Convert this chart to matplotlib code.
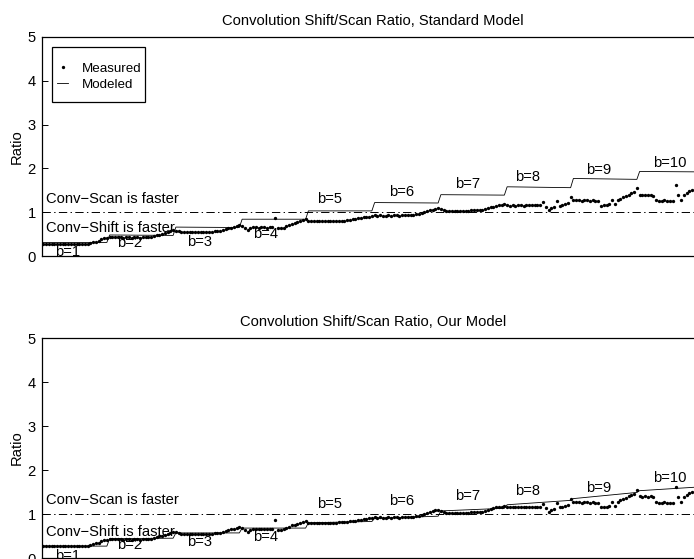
import numpy as np
import matplotlib
matplotlib.use("Agg")
import matplotlib.pyplot as plt
from matplotlib.patches import Rectangle

plt.rcParams['font.family'] = ['Liberation Sans', 'DejaVu Sans']
plt.rcParams['lines.scale_dashes'] = False

# block sizes b = 1..10, measured shift/scan ratio for each image size in a block
b_values = [1, 2, 3, 4, 5, 6, 7, 8, 9, 10]
points_per_block = 24

meas_b1 = [0.28, 0.27, 0.28, 0.27, 0.28, 0.28, 0.27, 0.28, 0.27, 0.28, 0.28, 0.27,
           0.28, 0.27, 0.28, 0.28, 0.28, 0.29, 0.31, 0.33, 0.35, 0.38, 0.40, 0.42]
meas_b2 = [0.44, 0.43, 0.44, 0.43, 0.43, 0.42, 0.43, 0.43, 0.42, 0.43, 0.43, 0.42,
           0.43, 0.43, 0.43, 0.44, 0.45, 0.47, 0.49, 0.51, 0.53, 0.55, 0.57, 0.59]
meas_b3 = [0.58, 0.56, 0.55, 0.55, 0.54, 0.55, 0.55, 0.54, 0.55, 0.55, 0.54, 0.55,
           0.55, 0.55, 0.56, 0.56, 0.57, 0.59, 0.61, 0.63, 0.65, 0.67, 0.69, 0.71]
meas_b4 = [0.68, 0.64, 0.60, 0.64, 0.66, 0.66, 0.65, 0.66, 0.66, 0.65, 0.66, 0.66,
           0.87, 0.64, 0.63, 0.65, 0.68, 0.71, 0.74, 0.76, 0.78, 0.80, 0.82, 0.84]
meas_b5 = [0.80, 0.79, 0.79, 0.80, 0.79, 0.79, 0.80, 0.79, 0.80, 0.80, 0.80, 0.81,
           0.81, 0.81, 0.82, 0.83, 0.84, 0.85, 0.86, 0.87, 0.88, 0.89, 0.90, 0.91]
meas_b6 = [0.93, 0.92, 0.93, 0.92, 0.92, 0.93, 0.92, 0.93, 0.93, 0.92, 0.93, 0.93,
           0.94, 0.94, 0.94, 0.95, 0.96, 0.98, 1.00, 1.02, 1.04, 1.06, 1.08, 1.09]
meas_b7 = [1.07, 1.04, 1.03, 1.03, 1.02, 1.03, 1.03, 1.02, 1.03, 1.03, 1.03, 1.04,
           1.04, 1.04, 1.04, 1.05, 1.07, 1.09, 1.11, 1.13, 1.15, 1.16, 1.17, 1.18]
meas_b8 = [1.17, 1.15, 1.16, 1.15, 1.16, 1.16, 1.15, 1.16, 1.16, 1.17, 1.16, 1.16,
           1.17, 1.23, 1.13, 1.05, 1.10, 1.12, 1.25, 1.15, 1.17, 1.18, 1.21, 1.34]
meas_b9 = [1.28, 1.27, 1.27, 1.26, 1.27, 1.27, 1.26, 1.27, 1.26, 1.26, 1.15, 1.16,
           1.17, 1.19, 1.28, 1.19, 1.27, 1.31, 1.34, 1.37, 1.40, 1.43, 1.46, 1.55]
meas_b10 = [1.40, 1.39, 1.40, 1.39, 1.40, 1.38, 1.27, 1.25, 1.26, 1.27, 1.26, 1.25,
            1.26, 1.61, 1.39, 1.28, 1.39, 1.44, 1.48, 1.51, 1.53, 1.55]
measured_blocks = [meas_b1, meas_b2, meas_b3, meas_b4, meas_b5,
                   meas_b6, meas_b7, meas_b8, meas_b9, meas_b10]

# modeled ratio at the first and last size of each block
model_std_start = [0.31, 0.48, 0.66, 0.84, 1.03, 1.22, 1.40, 1.58, 1.77, 1.93]
model_std_end = [0.31, 0.47, 0.65, 0.84, 1.03, 1.21, 1.39, 1.56, 1.75, 1.92]
model_our_start = [0.27, 0.44, 0.57, 0.68, 0.80, 0.90, 1.07, 1.21, 1.35, 1.53]
model_our_end = [0.27, 0.45, 0.57, 0.68, 0.83, 0.95, 1.13, 1.31, 1.49, 1.62]

# block annotations (left edge in block units, vertical position in ratio units)
label_x = [0.20, 1.13, 2.19, 3.18, 4.15, 5.24, 6.23, 7.14, 8.21, 9.22]
label_y_std = [0.10, 0.29, 0.33, 0.50, 1.29, 1.47, 1.64, 1.81, 1.96, 2.13]
label_y_our = [0.05, 0.30, 0.36, 0.48, 1.23, 1.30, 1.41, 1.52, 1.60, 1.81]

titles = ["Convolution Shift/Scan Ratio, Standard Model",
          "Convolution Shift/Scan Ratio, Our Model"]
yticks = [0, 1, 2, 3, 4, 5]

FS = 10.6
LEG_FS = 9.6
W, H = 694, 559


def block_x(b, n):
    return (b - 1) + (np.arange(n) + 0.5) / points_per_block


meas_x = np.concatenate([block_x(b, len(v)) for b, v in zip(b_values, measured_blocks)])
meas_y = np.concatenate(measured_blocks)


def model_line(starts, ends):
    xs, ys = [], []
    for b, s, e in zip(b_values, starts, ends):
        xs += [(b - 1) + 0.5 / points_per_block, (b - 1) + (points_per_block - 0.5) / points_per_block]
        ys += [s, e]
    return np.array(xs), np.array(ys)


fig = plt.figure(figsize=(W / 100, H / 100), dpi=100)
ax1 = fig.add_axes([42 / W, 1 - 256 / H, 662.5 / W, 219 / H])
ax2 = fig.add_axes([42 / W, 1 - 558 / H, 662.5 / W, 220 / H])

panels = [(ax1, model_std_start, model_std_end, label_y_std, titles[0], 1.30, 0.63),
          (ax2, model_our_start, model_our_end, label_y_our, titles[1], 1.32, 0.60)]

for ax, ms, me, ly, title, scan_y, shift_y in panels:
    mx, my = model_line(ms, me)
    ax.plot(meas_x, meas_y, linestyle='none', marker='o', markersize=2.4,
            markeredgewidth=0, color='black', label='Measured', zorder=3)
    ax.plot(mx, my, color='black', linewidth=0.6, label='Modeled', zorder=2)
    ax.axhline(1.0, color='black', linewidth=0.7,
               linestyle=(0, (6.0, 2.4, 1.0, 2.4)), zorder=1)

    ax.text(0.06, scan_y, "Conv\u2212Scan is faster", fontsize=FS, ha='left', va='center')
    ax.text(0.06, shift_y, "Conv\u2212Shift is faster", fontsize=FS, ha='left', va='center')
    for b, x, y in zip(b_values, label_x, ly):
        ax.text(x, y, f"b={b}", fontsize=FS, ha='left', va='center')

    ax.set_xlim(0, 10)
    ax.set_ylim(0, 5)
    ax.set_xticks([])
    ax.set_yticks(yticks)
    ax.tick_params(axis='y', direction='in', length=4, width=0.7, labelsize=FS, pad=4.5)
    for s in ax.spines.values():
        s.set_linewidth(0.9)
    ax.set_ylabel("Ratio", fontsize=FS)
    ax.yaxis.set_label_coords(-0.027, 0.5)
    ax.set_title(title, fontsize=FS, pad=8.3)

# legend entries without their own frame, boxed separately
leg = ax1.legend(loc='upper left', fontsize=LEG_FS, frameon=False,
                 bbox_to_anchor=(57 / W, 1 - 62.5 / H), bbox_transform=fig.transFigure,
                 borderaxespad=0, borderpad=0, handlelength=0.85,
                 handletextpad=1.0, labelspacing=0.27, markerscale=1.0)
fig.patches.append(Rectangle((52 / W, 1 - 102 / H), 93 / W, 55 / H,
                             transform=fig.transFigure, fill=False,
                             edgecolor='black', linewidth=0.9, zorder=5))

fig.savefig("out.png", dpi=100)
